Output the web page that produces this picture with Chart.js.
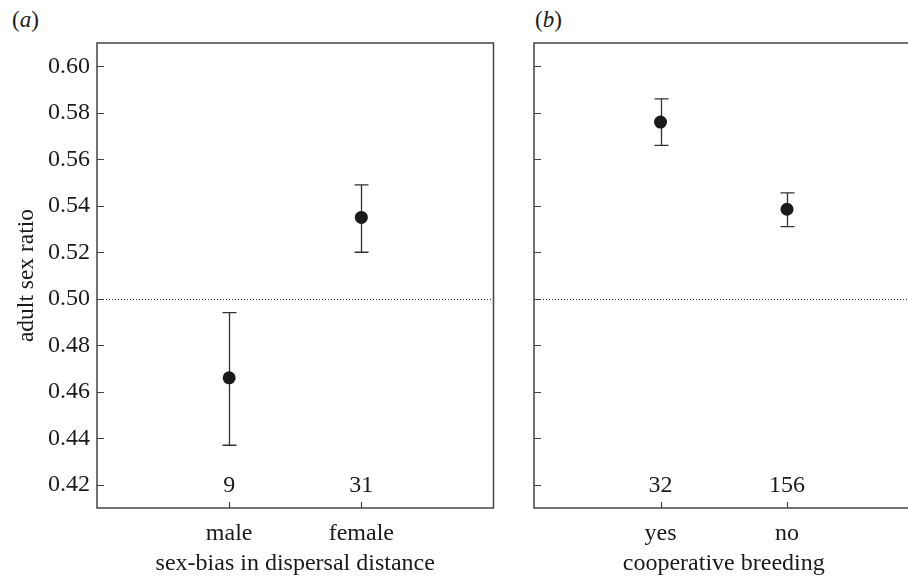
<!DOCTYPE html>
<html>
<head>
<meta charset="utf-8">
<script src="https://cdn.jsdelivr.net/npm/chart.js@4.4.1/dist/chart.umd.min.js"></script>
<style>
  html, body { margin: 0; padding: 0; background: #fff; overflow: hidden; width: 908px; height: 578px; }
  .panel { position: absolute; top: 0; }
  .tag { position: absolute; top: 7px; font: 23px 'Liberation Serif', serif; line-height: normal; color: #1a1a1a; }
</style>
</head>
<body>
<div class="tag" style="left:12px">(<i>a</i>)</div>
<div class="tag" style="left:535px">(<i>b</i>)</div>
<canvas id="chartA" class="panel" width="500" height="578" style="left:0"></canvas>
<canvas id="chartB" class="panel" width="400" height="578" style="left:520px"></canvas>
<script>
'use strict';

// --- datos ---
const yTicks = [0.42, 0.44, 0.46, 0.48, 0.50, 0.52, 0.54, 0.56, 0.58, 0.60];
const refLine = 0.5;

// (a) sex-bias in dispersal distance
const groupsA = ['male', 'female'];
const meanA   = [0.466, 0.535];
const lowerA  = [0.437, 0.520];
const upperA  = [0.494, 0.549];
const countsA = [9, 31];

// (b) cooperative breeding
const groupsB = ['yes', 'no'];
const meanB   = [0.576, 0.5385];
const lowerB  = [0.566, 0.531];
const upperB  = [0.586, 0.5455];
const countsB = [32, 156];

const INK = '#1a1a1a';
const SERIF = "'Liberation Serif', 'Times New Roman', serif";

Chart.defaults.font.family = SERIF;
Chart.defaults.color = INK;

// error bars, dotted line at 0.5, sample sizes, box and inward ticks
function panelDecor(mean, lower, upper, counts) {
  return {
    id: 'panelDecor',
    beforeDatasetsDraw(chart) {
      const { ctx, chartArea: a, scales: { x, y } } = chart;
      ctx.save();

      // linea punteada en 0.5
      const yr = Math.round(y.getPixelForValue(refLine)) + 0.5;
      ctx.strokeStyle = '#333';
      ctx.lineWidth = 1;
      ctx.setLineDash([1, 2]);
      ctx.beginPath();
      ctx.moveTo(a.left, yr);
      ctx.lineTo(a.right, yr);
      ctx.stroke();
      ctx.setLineDash([]);

      // barras de error
      ctx.strokeStyle = '#333';
      ctx.lineWidth = 1.3;
      mean.forEach((m, i) => {
        const px = Math.round(x.getPixelForValue(i + 1)) + 0.5;
        const yt = y.getPixelForValue(upper[i]);
        const yb = y.getPixelForValue(lower[i]);
        ctx.beginPath();
        ctx.moveTo(px, yt); ctx.lineTo(px, yb);
        ctx.moveTo(px - 7, yt); ctx.lineTo(px + 7, yt);
        ctx.moveTo(px - 7, yb); ctx.lineTo(px + 7, yb);
        ctx.stroke();
      });

      // tamaños de muestra
      ctx.fillStyle = INK;
      ctx.font = '24px ' + SERIF;
      ctx.textAlign = 'center';
      ctx.textBaseline = 'middle';
      counts.forEach((n, i) => {
        ctx.fillText(String(n), x.getPixelForValue(i + 1), y.getPixelForValue(yTicks[0]) + 1);
      });
      ctx.restore();
    },
    afterDraw(chart) {
      const { ctx, chartArea: a, scales: { x, y } } = chart;
      ctx.save();
      ctx.strokeStyle = '#444';
      ctx.lineWidth = 1.5;
      ctx.strokeRect(a.left, a.top, a.right - a.left, a.bottom - a.top);

      ctx.lineWidth = 1.2;
      ctx.beginPath();
      y.ticks.forEach(t => {
        const py = Math.round(y.getPixelForValue(t.value)) + 0.5;
        ctx.moveTo(a.left, py); ctx.lineTo(a.left + 7, py);
      });
      x.ticks.forEach(t => {
        const px = Math.round(x.getPixelForValue(t.value)) + 0.5;
        ctx.moveTo(px, a.bottom); ctx.lineTo(px, a.bottom - 6);
      });
      ctx.stroke();
      ctx.restore();
    }
  };
}

function makePanel(canvas, groups, mean, lower, upper, counts, cfg) {
  return new Chart(canvas, {
    type: 'scatter',
    data: {
      datasets: [{
        data: mean.map((m, i) => ({ x: i + 1, y: m })),
        pointRadius: 6.5,
        pointHoverRadius: 6.5,
        pointBackgroundColor: '#1a1a1a',
        pointBorderWidth: 0
      }]
    },
    options: {
      responsive: false,
      animation: false,
      events: [],
      layout: { padding: { left: 0, top: 43, right: cfg.padRight, bottom: 0 } },
      plugins: { legend: { display: false }, tooltip: { enabled: false } },
      scales: {
        x: {
          type: 'linear',
          min: 0,
          max: 3,
          afterBuildTicks: s => { s.ticks = groups.map((g, i) => ({ value: i + 1 })); },
          afterFit: s => { s.height = 70; },
          grid: { display: false, drawTicks: false },
          border: { display: false },
          ticks: {
            callback: (v, i) => groups[i],
            padding: 11,
            maxRotation: 0,
            autoSkip: false,
            font: { size: 24 },
            color: INK
          },
          title: {
            display: true,
            text: cfg.xTitle,
            font: { size: 24 },
            color: INK,
            padding: 0
          }
        },
        y: {
          type: 'linear',
          min: 0.41,
          max: 0.61,
          afterBuildTicks: s => { s.ticks = yTicks.map(v => ({ value: v })); },
          afterFit: s => { s.width = cfg.leftWidth; },
          grid: { display: false, drawTicks: false },
          border: { display: false },
          ticks: {
            display: cfg.showY,
            callback: v => v.toFixed(2),
            padding: 7,
            font: { size: 24 },
            color: INK
          },
          title: {
            display: !!cfg.yTitle,
            text: cfg.yTitle || '',
            font: { size: 23.5 },
            color: INK,
            padding: 13
          }
        }
      }
    },
    plugins: [panelDecor(mean, lower, upper, counts)]
  });
}

makePanel(document.getElementById('chartA'), groupsA, meanA, lowerA, upperA, countsA, {
  xTitle: 'sex-bias in dispersal distance',
  yTitle: 'adult sex ratio',
  showY: true,
  leftWidth: 97,
  padRight: 6
});

makePanel(document.getElementById('chartB'), groupsB, meanB, lowerB, upperB, countsB, {
  xTitle: 'cooperative breeding',
  yTitle: null,
  showY: false,
  leftWidth: 14,
  padRight: 2
});
</script>
</body>
</html>
